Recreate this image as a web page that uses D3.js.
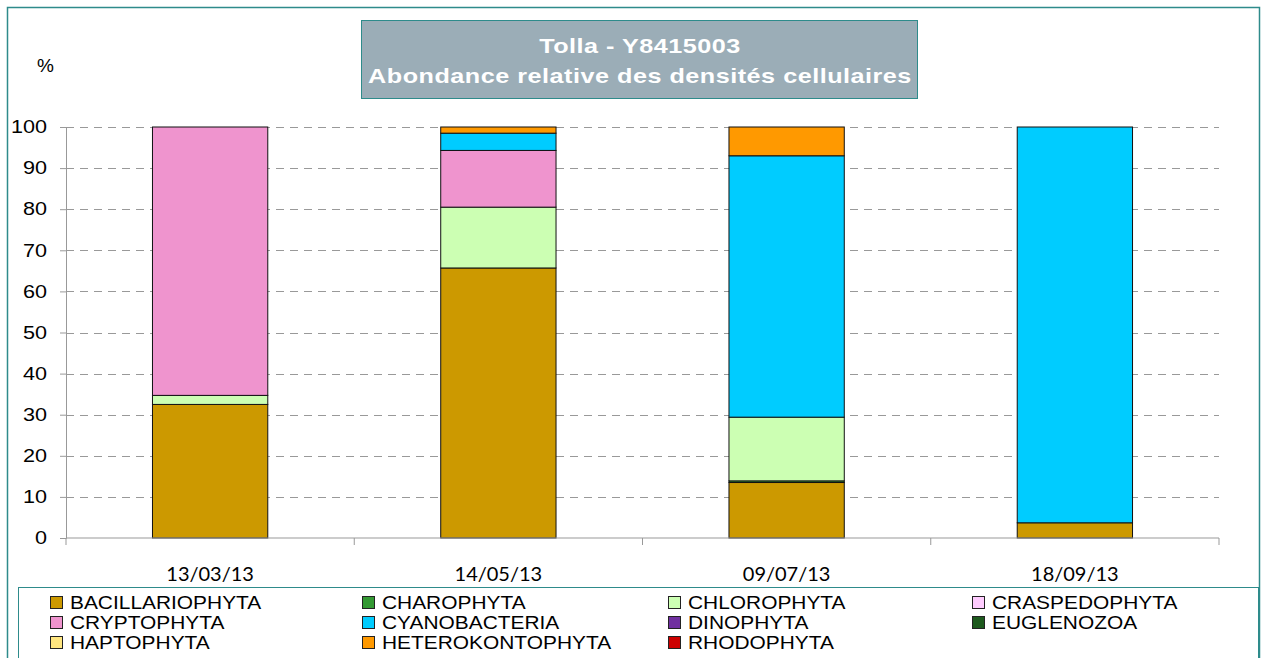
<!DOCTYPE html>
<html>
<head>
<meta charset="utf-8">
<script src="https://cdn.jsdelivr.net/npm/d3@7"></script>
<style>
  body { margin: 0; background: #fff; }
  svg { display: block; }
</style>
</head>
<body>
<svg id="chart" width="1261" height="658"></svg>
<script>
// Dates (x categories)
const dates = ["13/03/13", "14/05/13", "09/07/13", "18/09/13"];

// Phyla in stacking order (bottom to top) and legend order
const phyla = ["BACILLARIOPHYTA", "CHAROPHYTA", "CHLOROPHYTA", "CRASPEDOPHYTA",
               "CRYPTOPHYTA", "CYANOBACTERIA", "DINOPHYTA", "EUGLENOZOA",
               "HAPTOPHYTA", "HETEROKONTOPHYTA", "RHODOPHYTA"];

const phylaColors = ["#cc9900", "#339933", "#ccffb3", "#ffccff",
                     "#ef94ce", "#00ccff", "#7030a0", "#1e5a1e",
                     "#ffe680", "#ff9900", "#cc0000"];

// relative abundance (%) per phylum, one value per date
const bacillariophyta  = [32.5, 65.7, 13.5, 3.7];
const charophyta       = [0, 0, 0.4, 0];
const chlorophyta      = [2.2, 14.8, 15.5, 0];
const craspedophyta    = [0, 0, 0, 0];
const cryptophyta      = [65.3, 13.8, 0, 0];
const cyanobacteria    = [0, 4.2, 63.6, 96.3];
const dinophyta        = [0, 0, 0, 0];
const euglenozoa       = [0, 0, 0, 0];
const haptophyta       = [0, 0, 0, 0];
const heterokontophyta = [0, 1.5, 7.0, 0];
const rhodophyta       = [0, 0, 0, 0];

const yTicks = [0, 10, 20, 30, 40, 50, 60, 70, 80, 90, 100];

const series = [bacillariophyta, charophyta, chlorophyta, craspedophyta, cryptophyta,
                cyanobacteria, dinophyta, euglenozoa, haptophyta, heterokontophyta, rhodophyta];

// build rows for d3.stack
const rows = dates.map((d, i) => {
    const r = { date: d };
    phyla.forEach((p, j) => r[p] = series[j][i]);
    return r;
});

const svg = d3.select("#chart");
const FONT = "'Liberation Sans', Arial, sans-serif";

// outer frame
svg.append("rect")
    .attr("x", 7.5).attr("y", 7.5)
    .attr("width", 1261 - 9).attr("height", 658)
    .attr("fill", "none")
    .attr("stroke", "#2e8b8b")
    .attr("stroke-width", 1.5);

const plotLeft = 66, plotRight = 1219, plotTop = 127, plotBottom = 538;

const x = d3.scaleBand()
    .domain(dates)
    .range([plotLeft, plotRight])
    .paddingInner(0.6)
    .paddingOuter(0.3);

const xTick = d3.scaleBand().domain(dates).range([plotLeft, plotRight]);

const y = d3.scaleLinear()
    .domain([0, 100])
    .range([plotBottom, plotTop]);

const color = d3.scaleOrdinal().domain(phyla).range(phylaColors);

// dashed gridlines
svg.append("g")
    .selectAll("line")
    .data(yTicks.filter(t => t > 0))
    .enter()
    .append("line")
    .attr("x1", plotLeft).attr("x2", plotRight)
    .attr("y1", d => Math.round(y(d)) + 0.5)
    .attr("y2", d => Math.round(y(d)) + 0.5)
    .attr("stroke", "#999")
    .attr("stroke-width", 1)
    .attr("stroke-dasharray", "8,6");

// stacked bars
const stacked = d3.stack().keys(phyla)(rows);

svg.append("g")
    .selectAll("g")
    .data(stacked)
    .enter()
    .append("g")
    .attr("fill", d => color(d.key))
    .selectAll("rect")
    .data(d => d.filter(s => s[1] - s[0] > 0))
    .enter()
    .append("rect")
    .attr("x", d => x(d.data.date))
    .attr("y", d => y(d[1]))
    .attr("width", x.bandwidth())
    .attr("height", d => y(d[0]) - y(d[1]))
    .attr("stroke", "#111")
    .attr("stroke-width", 1);

// y axis (labels a bit wider than normal, like the original)
const yStretch = 1.2;
const yAxis = svg.append("g")
    .attr("transform", `translate(${plotLeft},0)`)
    .call(d3.axisLeft(y).tickValues(yTicks).tickSize(6).tickPadding(10));
yAxis.selectAll("text")
    .attr("x", -19 / yStretch)
    .attr("transform", `scale(${yStretch},1)`)
    .style("font-family", FONT)
    .style("font-size", "18px")
    .attr("fill", "#000");
yAxis.selectAll("line, path").attr("stroke", "#999");

// x axis: ticks at category boundaries
const xAxisG = svg.append("g").attr("transform", `translate(0,${plotBottom})`);
xAxisG.append("line")
    .attr("x1", plotLeft).attr("x2", plotRight)
    .attr("stroke", "#999");
xAxisG.selectAll(".tk")
    .data(dates.concat(["end"]))
    .enter()
    .append("line")
    .attr("class", "tk")
    .attr("x1", (d, i) => i < dates.length ? xTick(d) : plotRight)
    .attr("x2", (d, i) => i < dates.length ? xTick(d) : plotRight)
    .attr("y1", 0).attr("y2", 7)
    .attr("stroke", "#999");
xAxisG.selectAll("text")
    .data(dates)
    .enter()
    .append("text")
    .attr("x", d => x(d) + x.bandwidth() / 2)
    .attr("y", 43)
    .attr("text-anchor", "middle")
    .style("font-family", "Lato, Carlito, sans-serif")
    .style("font-size", "20px")
    .text(d => d);

// % label
svg.append("text")
    .attr("x", 37).attr("y", 72)
    .style("font-family", FONT)
    .style("font-size", "19px")
    .text("%");

// title box
svg.append("rect")
    .attr("x", 361.5).attr("y", 20.5)
    .attr("width", 556).attr("height", 78)
    .attr("fill", "#9badb7")
    .attr("stroke", "#2e8b8b");
const titleLines = ["Tolla - Y8415003", "Abondance relative des densités cellulaires"];
svg.append("g")
    .selectAll("text")
    .data(titleLines)
    .enter()
    .append("text")
    .attr("transform", (d, i) => `translate(640,${53 + i * 30}) scale(1.26,1)`)
    .attr("text-anchor", "middle")
    .attr("fill", "#fff")
    .style("font-family", FONT)
    .style("font-weight", "bold")
    .style("font-size", "20px")
    .style("letter-spacing", "0.4px")
    .text(d => d);

// legend
svg.append("rect")
    .attr("x", 18.5).attr("y", 587.5)
    .attr("width", 1240).attr("height", 80)
    .attr("fill", "none")
    .attr("stroke", "#2e8b8b");

const lgStretch = 1.1;
const legend = svg.append("g")
    .selectAll("g")
    .data(phyla)
    .enter()
    .append("g")
    .attr("transform", (d, i) => `translate(${[50, 362, 668, 972][i % 4]},${602 + Math.floor(i / 4) * 20})`);
legend.append("rect")
    .attr("x", 0.5).attr("y", -5.5)
    .attr("width", 12).attr("height", 12)
    .attr("fill", d => color(d))
    .attr("stroke", "#222");
legend.append("text")
    .attr("x", 20 / lgStretch).attr("y", 7)
    .attr("transform", `scale(${lgStretch},1)`)
    .style("font-family", FONT)
    .style("font-size", "19px")
    .text(d => d);
</script>
</body>
</html>
